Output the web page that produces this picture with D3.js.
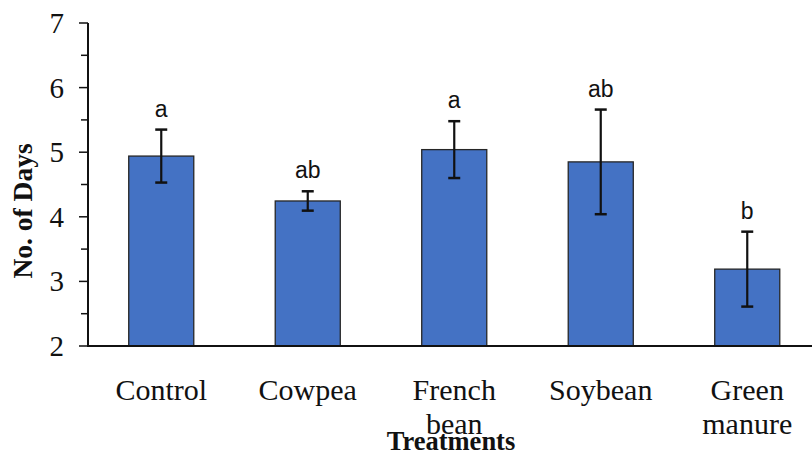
<!DOCTYPE html>
<html><head><meta charset="utf-8">
<script src="https://d3js.org/d3.v7.min.js"></script>
<style>body{margin:0;background:#fff}svg{display:block}</style>
</head><body>
<script>
const categories = [["Control"], ["Cowpea"], ["French", "bean"], ["Soybean"], ["Green", "manure"]];
const means = [4.94, 4.245, 5.04, 4.85, 3.19];
const errors = [0.41, 0.15, 0.44, 0.81, 0.58];
const letters = ["a", "ab", "a", "ab", "b"];
const yTicks = [2, 3, 4, 5, 6, 7];
const yMinorTicks = [2.5, 3.5, 4.5, 5.5, 6.5];

const W = 812, H = 452;
const svg = d3.select("body").append("svg").attr("width", W).attr("height", H);
const keys = categories.map(c => c.join(" "));
const x = d3.scaleBand().domain(keys).range([88, 820.5]).paddingInner(0.556).paddingOuter(0.278);
const y = d3.scaleLinear().domain([2, 7]).range([346, 23]);

// bars
svg.selectAll("rect.bar").data(means).join("rect")
  .attr("x", (d, i) => x(keys[i])).attr("width", x.bandwidth())
  .attr("y", d => y(d)).attr("height", d => y(2) - y(d))
  .attr("fill", "#4472C4").attr("stroke", "#262626").attr("stroke-width", 1.3);

// error bars
const eb = svg.selectAll("g.eb").data(means).join("g")
  .attr("transform", (d, i) => `translate(${x(keys[i]) + x.bandwidth() / 2},0)`);
eb.append("line").attr("y1", (d, i) => y(d + errors[i])).attr("y2", (d, i) => y(d - errors[i]))
  .attr("stroke", "#111").attr("stroke-width", 2.2);
eb.append("line").attr("x1", -6).attr("x2", 6).attr("y1", (d, i) => y(d + errors[i])).attr("y2", (d, i) => y(d + errors[i]))
  .attr("stroke", "#111").attr("stroke-width", 2.5);
eb.append("line").attr("x1", -6).attr("x2", 6).attr("y1", (d, i) => y(d - errors[i])).attr("y2", (d, i) => y(d - errors[i]))
  .attr("stroke", "#111").attr("stroke-width", 2.5);
eb.append("text").attr("y", (d, i) => y(d + errors[i]) - 13).attr("text-anchor", "middle")
  .attr("font-family", "Liberation Sans, Arial, sans-serif").attr("font-size", 23).attr("fill", "#111")
  .text((d, i) => letters[i]);

// y axis
const yAxis = svg.append("g").attr("transform", "translate(88,0)");
yAxis.append("line").attr("x1", 0).attr("x2", 0).attr("y1", y(7)).attr("y2", y(2)).attr("stroke", "#111").attr("stroke-width", 2);
yAxis.selectAll("line.maj").data(yTicks).join("line").attr("x1", -9).attr("x2", 0)
  .attr("y1", d => y(d)).attr("y2", d => y(d)).attr("stroke", "#111").attr("stroke-width", 1.5);
yAxis.selectAll("line.min").data(yMinorTicks).join("line").attr("x1", -7).attr("x2", 0)
  .attr("y1", d => y(d)).attr("y2", d => y(d)).attr("stroke", "#111").attr("stroke-width", 1.5);
yAxis.selectAll("text").data(yTicks).join("text").attr("x", -24).attr("y", d => y(d) + 10)
  .attr("text-anchor", "end").attr("font-family", "Liberation Serif, Times New Roman, serif")
  .attr("font-size", 29).attr("fill", "#111").text(d => d);

// x axis line
svg.append("line").attr("x1", 87).attr("x2", W).attr("y1", y(2)).attr("y2", y(2)).attr("stroke", "#111").attr("stroke-width", 2);

// category labels
const cl = svg.selectAll("text.cat").data(categories).join("text")
  .attr("text-anchor", "middle").attr("font-family", "Liberation Serif, Times New Roman, serif")
  .attr("font-size", 30).attr("fill", "#111");
cl.each(function (c, i) {
  const t = d3.select(this);
  c.forEach((line, j) => {
    t.append("tspan").attr("x", x(keys[i]) + x.bandwidth() / 2).attr("y", 400 + j * 34).text(line);
  });
});

// axis titles
svg.append("text").attr("x", 451).attr("y", 450).attr("text-anchor", "middle")
  .attr("font-family", "Liberation Serif, Times New Roman, serif").attr("font-weight", "bold")
  .attr("font-size", 26.5).attr("fill", "#111").text("Treatments");
svg.append("text").attr("transform", "translate(32,211) rotate(-90)").attr("text-anchor", "middle")
  .attr("font-family", "Liberation Serif, Times New Roman, serif").attr("font-weight", "bold")
  .attr("font-size", 27.5).attr("fill", "#111").text("No. of Days");
</script>
</body></html>
